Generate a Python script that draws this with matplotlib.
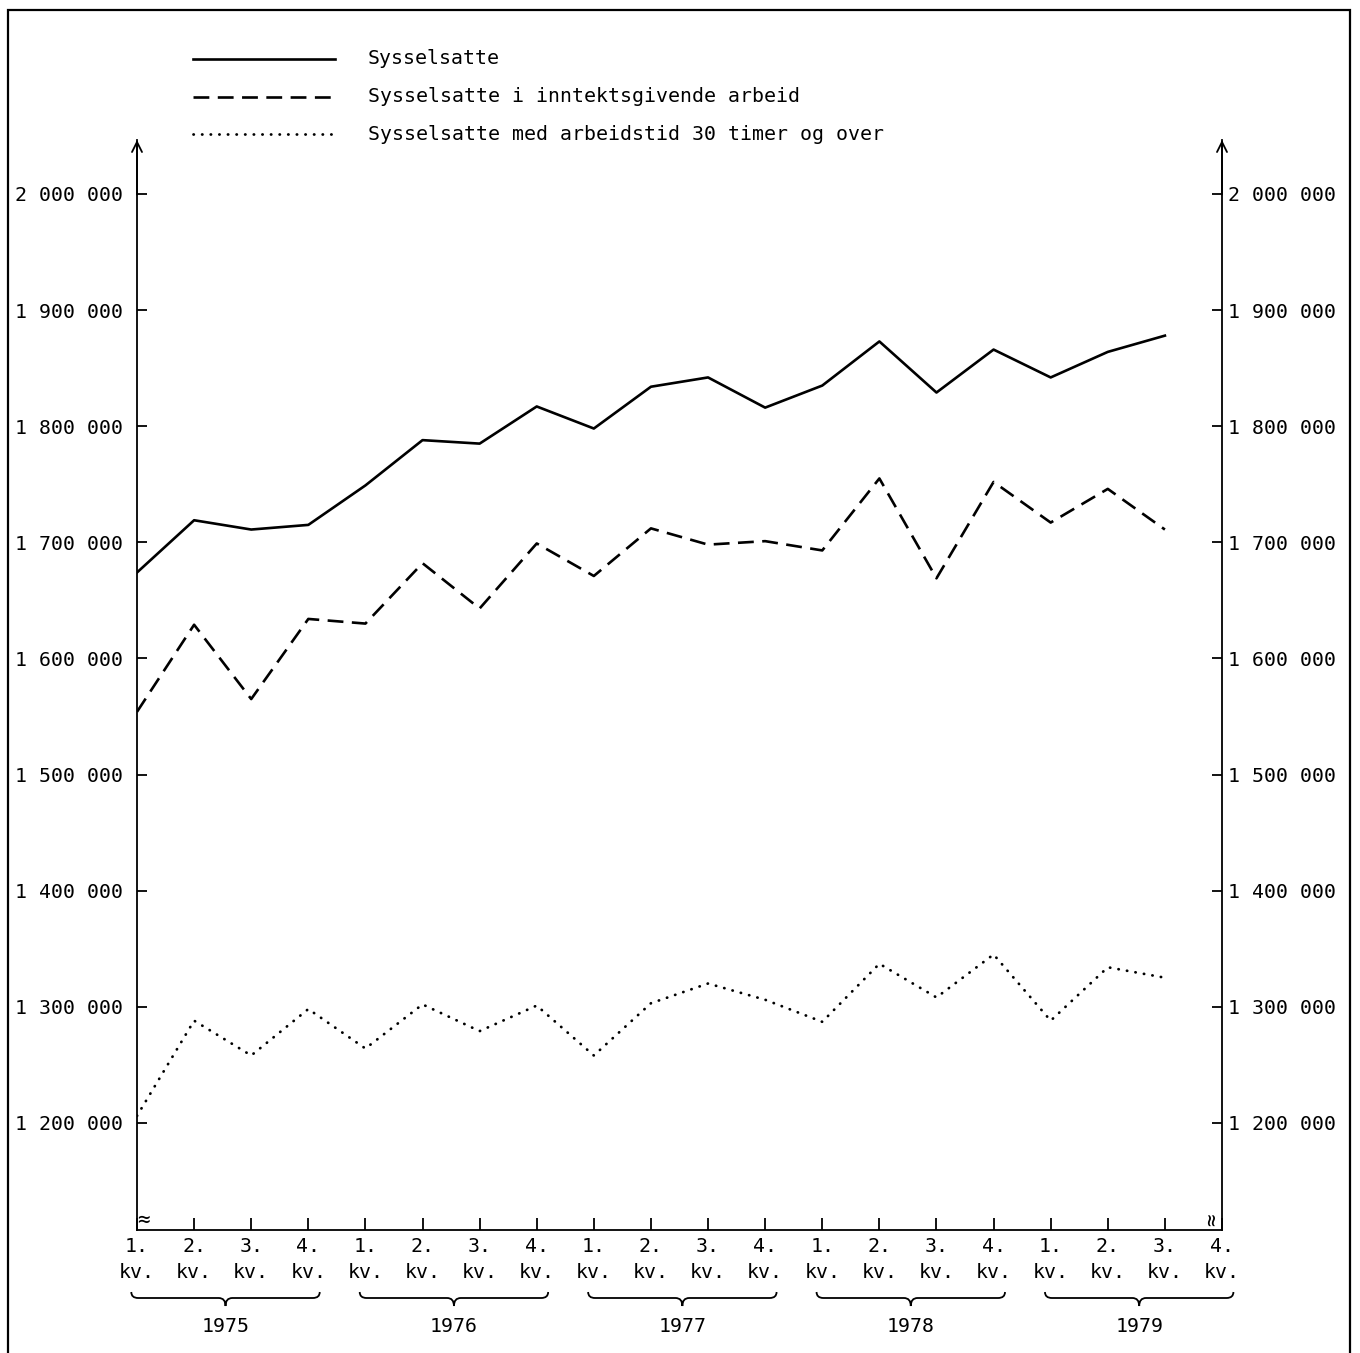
import matplotlib.pyplot as plt
from matplotlib.lines import Line2D
from matplotlib.patches import Rectangle, PathPatch
from matplotlib.path import Path

plt.rcParams['font.family'] = ['DejaVu Sans Mono', 'DejaVu Sans']

# data (persons), quarters 1975 Q1 .. 1979 Q3
years = [1975, 1976, 1977, 1978, 1979]
quarter_labels = ['1.\nkv.', '2.\nkv.', '3.\nkv.', '4.\nkv.'] * len(years)

sysselsatte = [1674000, 1719000, 1711000, 1715000,
               1749000, 1788000, 1785000, 1817000,
               1798000, 1834000, 1842000, 1816000,
               1835000, 1873000, 1829000, 1866000,
               1842000, 1864000, 1878000]
inntektsgivende = [1554000, 1629000, 1565000, 1634000,
                   1630000, 1682000, 1643000, 1699000,
                   1671000, 1712000, 1698000, 1701000,
                   1693000, 1755000, 1669000, 1752000,
                   1717000, 1746000, 1711000]
over_30_timer = [1206000, 1288000, 1258000, 1298000,
                 1264000, 1302000, 1279000, 1301000,
                 1258000, 1303000, 1320000, 1306000,
                 1287000, 1337000, 1308000, 1345000,
                 1288000, 1334000, 1325000]

y_ticks = [1200000, 1300000, 1400000, 1500000, 1600000,
           1700000, 1800000, 1900000, 2000000]
y_labels = ['{:,}'.format(v).replace(',', ' ') for v in y_ticks]

legend_labels = ['Sysselsatte',
                 'Sysselsatte i inntektsgivende arbeid',
                 'Sysselsatte med arbeidstid 30 timer og over']

W, H = 1360, 1353
FS = 14.3
dash = (0, (6.0, 3.2))
dot = (0, (0.1, 3.0))


def fx(px):
    return px / W


def fy(py):
    return 1 - py / H


def yax(py):
    # pixel row -> axes fraction
    return (1230 - py) / 1090


fig = plt.figure(figsize=(W / 100, H / 100), dpi=100)
ax = fig.add_axes([fx(137), fy(1230), 1085 / W, 1090 / H])

x = list(range(len(sysselsatte)))
ax.plot(x, sysselsatte, color='black', lw=1.9)
ax.plot(x, inntektsgivende, color='black', lw=1.9, linestyle=dash)
ax.plot(x, over_30_timer, color='black', lw=2.0, linestyle=dot,
        dash_capstyle='round')

ax.set_xlim(0, 19)
ax.set_ylim(1107700, 2046500)

ax.spines['top'].set_visible(False)
for s in ['left', 'right', 'bottom']:
    ax.spines[s].set_linewidth(1.3)

ax.set_xticks(range(len(quarter_labels)))
ax.set_xticklabels(quarter_labels, linespacing=1.45)
ax.tick_params(axis='x', direction='in', length=9, width=1.3, pad=5,
               labelsize=FS)

ax.set_yticks(y_ticks)
ax.set_yticklabels(y_labels)
ax.tick_params(axis='y', direction='in', length=7, width=1.3, pad=10,
               labelsize=FS, left=True, right=True,
               labelleft=True, labelright=False)

# right-hand labels sit closer to the axis
ytrans = ax.get_yaxis_transform()
for v, lab in zip(y_ticks, y_labels):
    ax.text(1 + 6 / 1085, v, lab, transform=ytrans, ha='left',
            va='center_baseline', fontsize=FS, clip_on=False)

# arrows on top of vertical axes
for xa in [0, 1]:
    ax.annotate('', xy=(xa, 1.0), xytext=(xa, 0.95), xycoords='axes fraction',
                arrowprops=dict(arrowstyle='->', lw=1.3, color='black',
                                mutation_scale=18, shrinkA=0, shrinkB=0),
                annotation_clip=False)

# break marks at bottom of vertical axes
ax.text(0.0, yax(1220), '\u2248', transform=ax.transAxes, fontsize=15,
        ha='left', va='center')
ax.text(1.0, yax(1220), '\u2248', transform=ax.transAxes, fontsize=15,
        ha='right', va='center', rotation=90)

# year braces
trans = ax.get_xaxis_transform()
y_end, y_line, y_tip = yax(1292), yax(1298), yax(1306)
for i, yr in enumerate(years):
    x0 = 4 * i - 0.1
    x1 = 4 * i + 3 + 0.2
    xm = (x0 + x1) / 2
    verts = [(x0, y_end), (x0, y_line), (x0 + 0.12, y_line),
             (xm - 0.12, y_line), (xm, y_line), (xm, y_tip),
             (xm, y_line), (xm + 0.12, y_line),
             (x1 - 0.12, y_line), (x1, y_line), (x1, y_end)]
    codes = [Path.MOVETO, Path.CURVE3, Path.CURVE3,
             Path.LINETO, Path.CURVE3, Path.CURVE3,
             Path.CURVE3, Path.CURVE3,
             Path.LINETO, Path.CURVE3, Path.CURVE3]
    ax.add_patch(PathPatch(Path(verts, codes), transform=trans, fill=False,
                           lw=1.3, color='black', clip_on=False))
    ax.text(xm, yax(1327), str(yr), transform=trans, ha='center',
            va='center', fontsize=FS)

# legend drawn by hand
styles = [dict(lw=1.9), dict(lw=1.9, linestyle=dash),
          dict(lw=2.0, linestyle=dot, dash_capstyle='round')]
for py, lab, st in zip([59, 97, 134], legend_labels, styles):
    fig.add_artist(Line2D([fx(193), fx(335)], [fy(py), fy(py)],
                          color='black', **st))
    fig.text(fx(368), fy(py), lab, va='center', ha='left', fontsize=FS)

# outer frame
fig.add_artist(Rectangle((fx(8), -0.05), fx(1350) - fx(8), fy(10) + 0.05,
                         transform=fig.transFigure, fill=False, lw=1.6,
                         color='black'))

fig.savefig('out.png', dpi=100)
